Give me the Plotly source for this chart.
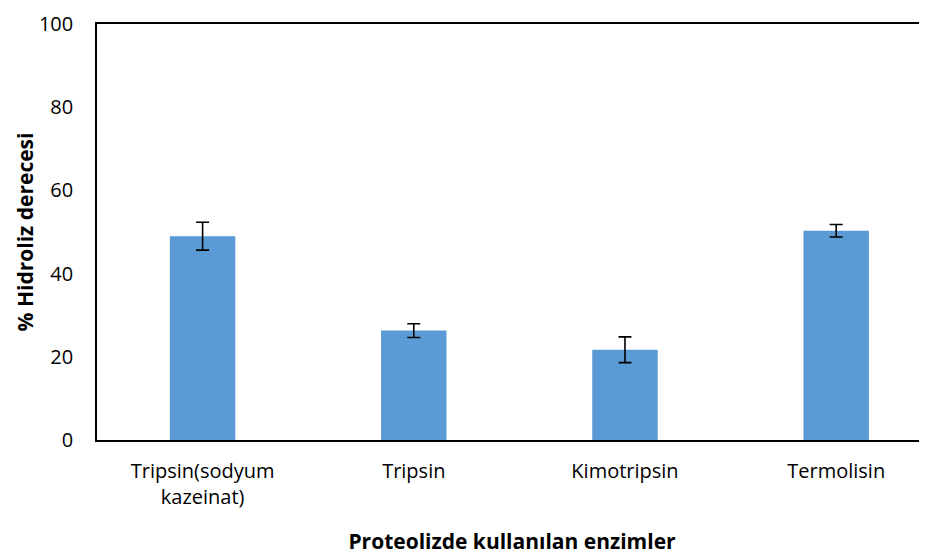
import plotly.graph_objects as go

enzimler = ["Tripsin(sodyum<br>kazeinat)", "Tripsin", "Kimotripsin", "Termolisin"]
hidroliz = [49.0, 26.3, 21.7, 50.3]
hata = [3.35, 1.65, 3.1, 1.5]

fig = go.Figure(go.Bar(
    x=enzimler, y=hidroliz,
    marker=dict(color="#5B9BD5", line=dict(width=0)),
    width=0.31,
    error_y=dict(type="data", array=hata, color="black", thickness=1.6, width=6.5),
))

fig.update_layout(
    width=927, height=555,
    margin=dict(l=89, r=8, t=16, b=123, autoexpand=False),
    paper_bgcolor="white", plot_bgcolor="white",
    font=dict(family="Open Sans, Liberation Sans, sans-serif", size=20, color="black"),
    showlegend=False,
    xaxis=dict(
        range=[-0.5, 3.43], automargin=False,
        showline=True, linecolor="black", linewidth=1.6, mirror=True,
        ticks="", ticklabelstandoff=12,
        title=dict(text="<b>Proteolizde kullanılan enzimler</b>", font=dict(size=21), standoff=26),
    ),
    yaxis=dict(
        range=[0, 100], dtick=20, automargin=False,
        showline=True, linecolor="black", linewidth=1.6,
        showgrid=False, zeroline=False,
        ticks="", ticklabelstandoff=18, ticklabeloverflow="allow",
        title=dict(text="<b>% Hidroliz derecesi</b>", font=dict(size=21), standoff=0),
    ),
)

fig.write_html("out.html")
